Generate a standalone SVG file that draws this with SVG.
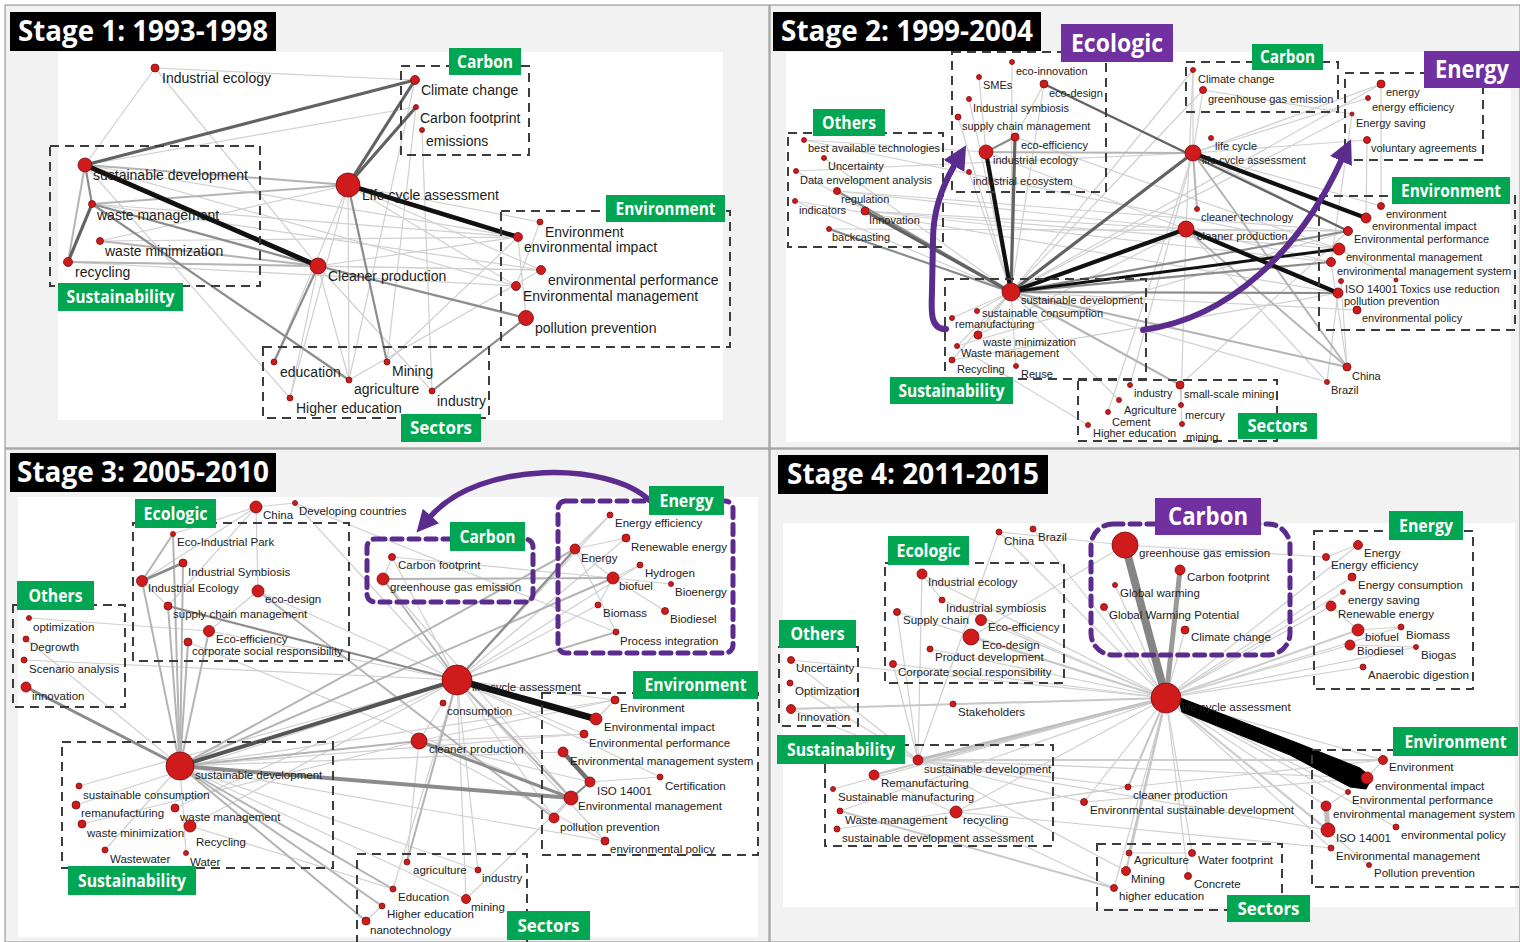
<svg xmlns="http://www.w3.org/2000/svg" width="1520" height="942" viewBox="0 0 1520 942">
<style>
text{font-family:"Liberation Sans",Arial,sans-serif}
.n circle{fill:#cf1b1b;stroke:#7d0b0b;stroke-width:.8}
.n text{fill:#1c1c1c}
.f1 text{font-size:14px}
.f2 text{font-size:11px}
.f3 text{font-size:11.5px}
.c0 path{stroke:#d0d0d0;stroke-width:1.2;fill:none}
.c1 path{stroke:#b4b4b4;stroke-width:2;fill:none}
.c2 path{stroke:#8c8c8c;stroke-width:2.2;fill:none}
.c3 path{stroke:#626262;stroke-width:3.2;fill:none}
.c4 path{stroke:#111;stroke-width:4.2;fill:none}
.bx{fill:none;stroke:#3c3c3c;stroke-width:2;stroke-dasharray:9 6}
.pb{fill:none;stroke:#5b2b8e;stroke-width:5;stroke-dasharray:10 7;stroke-linecap:round}
.gl rect{fill:#00a651}
.pl rect{fill:#7030a0}
.tt rect{fill:#000}
.gl text,.pl text,.tt text{font-family:"Open Sans","Liberation Sans",sans-serif;font-weight:700;fill:#fff;text-anchor:middle}
.gl text{font-size:17px}
.pl text{font-size:25px}
.tt text{font-size:28px}
.arr{fill:none;stroke:#5b2b8e;stroke-width:6;stroke-linecap:round}
</style>
<defs>
<marker id="ah" viewBox="0 0 10 10" refX="0" refY="5" markerWidth="4" markerHeight="4" orient="auto"><path d="M0,0L10,5L0,10z" fill="#5b2b8e"/></marker>
</defs>
<rect width="1520" height="942" fill="#fff"/>
<g id="panels">
<rect x="5" y="5" width="764" height="443" fill="#f2f2f2" stroke="#8a8a8a"/>
<rect x="770" y="5" width="750" height="443" fill="#f2f2f2" stroke="#8a8a8a"/>
<rect x="5" y="449" width="764" height="493" fill="#f2f2f2" stroke="#8a8a8a"/>
<rect x="770" y="449" width="750" height="493" fill="#f2f2f2" stroke="#8a8a8a"/>
<rect x="58" y="52" width="665" height="368" fill="#fff"/>
<rect x="786" y="52" width="725" height="390" fill="#fff"/>
<rect x="18" y="497" width="740" height="440" fill="#fff"/>
<rect x="783" y="523" width="732" height="384" fill="#fff"/>
</g>
<g id="connectors">
<!-- Stage 1 -->
<g class="c0">
<path d="M155 68L85 165"/><path d="M155 68L415 80"/><path d="M155 68L318 266"/><path d="M85 165L416 107"/>
<path d="M348 185L540 222"/><path d="M348 185L541 270"/><path d="M348 185L516 286"/><path d="M348 185L274 362"/>
<path d="M348 185L349 380"/><path d="M348 185L290 398"/><path d="M318 266L518 237"/><path d="M318 266L541 270"/>
<path d="M318 266L349 380"/><path d="M318 266L432 391"/><path d="M318 266L290 398"/><path d="M422 130L432 391"/>
<path d="M415 80L349 380"/><path d="M416 107L387 362"/><path d="M92 204L518 237"/><path d="M92 204L541 270"/>
<path d="M100 241L518 237"/><path d="M68 262L516 286"/><path d="M68 262L541 270"/><path d="M85 165L518 237"/>
<path d="M85 165L516 286"/><path d="M85 165L290 398"/><path d="M387 362L518 237"/><path d="M349 380L541 270"/>
<path d="M100 241L348 185"/><path d="M518 237L526 318"/><path d="M540 222L516 286"/>
</g>
<g class="c1">
<path d="M85 165L348 185"/><path d="M92 204L348 185"/><path d="M68 262L85 165"/><path d="M100 241L318 266"/><path d="M68 262L318 266"/>
</g>
<g class="c2">
<path d="M348 185L387 362"/><path d="M85 165L92 204"/><path d="M92 204L349 380"/><path d="M318 266L274 362"/>
<path d="M318 266L526 318"/><path d="M432 391L526 318"/><path d="M92 204L318 266"/>
</g>
<g class="c3">
<path d="M85 165L415 80"/><path d="M348 185L415 80"/><path d="M348 185L416 107"/><path d="M68 262L92 204"/>
</g>
<g class="c4">
<path d="M85 165L318 266" style="stroke-width:5"/><path d="M348 185L518 237" style="stroke-width:4.5"/>
</g>
<!-- Stage 2 -->
<g class="c0">
<path d="M804 140L986 152"/><path d="M804 140L1339 249"/><path d="M824 158L1011 292"/><path d="M796 171L1011 292"/>
<path d="M796 171L1193 153"/><path d="M795 201L1011 292"/><path d="M795 201L1338 293"/><path d="M837 191L1348 231"/>
<path d="M865 211L1339 249"/><path d="M865 211L1331 262"/><path d="M1011 292L1193 70"/><path d="M1011 292L1203 90"/>
<path d="M1011 292L1381 84"/><path d="M1011 292L1352 114"/><path d="M1193 153L1193 70"/><path d="M1203 90L1193 153"/>
<path d="M1193 153L1368 98"/><path d="M1193 153L1367 140"/><path d="M1193 153L1381 206"/><path d="M1193 153L1348 231"/>
<path d="M1186 229L1348 231"/><path d="M1186 229L1331 262"/><path d="M1186 229L1327 382"/><path d="M986 152L1186 229"/>
<path d="M1015 137L1339 249"/><path d="M958 117L1011 292"/><path d="M969 99L1011 292"/><path d="M969 172L1011 292"/>
<path d="M1012 62L1011 292"/><path d="M979 77L986 152"/><path d="M1044 84L1011 292"/><path d="M1044 84L1015 137"/>
<path d="M1193 70L1186 229"/><path d="M1381 84L1381 206"/><path d="M1367 140L1366 218"/><path d="M1352 114L1331 262"/>
<path d="M977 311L1011 292"/><path d="M952 318L1011 292"/><path d="M978 335L1011 292"/><path d="M957 346L1011 292"/>
<path d="M952 360L1011 292"/><path d="M1016 366L1011 292"/><path d="M1088 425L957 346"/><path d="M1119 400L1011 292"/>
<path d="M1108 412L1193 153"/><path d="M1130 385L1193 153"/><path d="M1180 385L1181 405"/><path d="M1180 385L1182 424"/>
<path d="M1180 385L1348 231"/><path d="M1181 405L1186 229"/><path d="M1011 292L1327 382"/><path d="M957 346L1348 231"/>
<path d="M952 360L1338 293"/><path d="M1396 280L1339 249"/><path d="M1331 262L1347 367"/><path d="M1327 382L1338 293"/>
<path d="M1341 281L1347 367"/><path d="M1357 310L1011 292"/><path d="M1193 153L1381 84"/><path d="M978 335L1186 229"/>
<path d="M865 211L1186 229"/><path d="M829 229L1348 231"/><path d="M837 191L1186 229"/><path d="M1203 90L1352 114"/>
</g>
<g class="c1">
<path d="M986 152L1193 153"/><path d="M1193 153L1197 209"/><path d="M1011 292L1180 385"/><path d="M1011 292L1347 367"/>
<path d="M1186 229L1347 367"/><path d="M1193 153L1347 367"/>
</g>
<g class="c2">
<path d="M829 229L1011 292"/><path d="M986 152L1015 137"/><path d="M1011 292L1348 231"/><path d="M1011 292L1331 262"/>
<path d="M837 191L1011 292"/><path d="M1011 292L1338 293"/>
</g>
<g class="c3">
<path d="M1011 292L1015 137"/><path d="M1011 292L1193 153"/><path d="M865 211L1011 292"/><path d="M1044 84L1348 231" style="stroke-width:2.4"/>
</g>
<g class="c4">
<path d="M1011 292L986 152"/><path d="M1011 292L1186 229"/><path d="M1186 229L1338 293"/><path d="M1193 153L1366 218"/>
<path d="M1011 292L1339 249" style="stroke-width:3"/>
</g>
<!-- Stage 3 -->
<g class="c0">
<path d="M256 507L142 581"/><path d="M256 507L168 606"/><path d="M256 507L258 591"/><path d="M295 503L457 680"/>
<path d="M295 503L616 632"/><path d="M173 534L256 507"/><path d="M142 581L168 606"/><path d="M258 591L209 631"/>
<path d="M258 591L457 680"/><path d="M209 631L457 680"/><path d="M188 642L571 798"/><path d="M26 639L180 766"/>
<path d="M24 660L457 680"/><path d="M29 618L209 631"/><path d="M392 557L457 680"/><path d="M392 557L613 578"/>
<path d="M383 579L571 798"/><path d="M457 680L610 515"/><path d="M457 680L626 538"/><path d="M457 680L598 605"/>
<path d="M457 680L640 565"/><path d="M457 680L615 700"/><path d="M457 680L584 734"/><path d="M457 680L554 818"/>
<path d="M457 680L660 777"/><path d="M457 680L605 841"/><path d="M457 680L466 899"/><path d="M457 680L393 889"/>
<path d="M443 703L419 741"/><path d="M419 741L615 700"/><path d="M419 741L584 734"/><path d="M419 741L590 782"/>
<path d="M419 741L407 862"/><path d="M419 741L605 841"/><path d="M180 766L615 700"/><path d="M180 766L584 734"/>
<path d="M180 766L563 752"/><path d="M180 766L605 841"/><path d="M180 766L478 870"/><path d="M180 766L466 899"/>
<path d="M190 826L393 889"/><path d="M79 786L457 680"/><path d="M76 805L457 680"/><path d="M82 824L419 741"/>
<path d="M105 850L180 766"/><path d="M186 853L180 766"/><path d="M575 549L613 578"/><path d="M613 578L598 605"/>
<path d="M613 578L665 611"/><path d="M613 578L640 565"/><path d="M613 578L671 584"/><path d="M626 538L575 549"/>
<path d="M610 515L575 549"/><path d="M616 632L575 549"/><path d="M478 870L457 680"/><path d="M466 899L571 798"/>
<path d="M366 921L382 906"/><path d="M596 719L615 700"/><path d="M590 782L660 777"/><path d="M554 818L571 798"/>
<path d="M175 808L457 680"/><path d="M190 826L457 680"/><path d="M392 557L383 579"/><path d="M295 503L256 507"/>
</g>
<g class="c1">
<path d="M180 766L142 581"/><path d="M180 766L168 606"/><path d="M180 766L209 631"/><path d="M180 766L188 642"/>
<path d="M180 766L183 563"/><path d="M180 766L173 534"/><path d="M142 581L173 534"/><path d="M180 766L419 741"/>
<path d="M457 680L407 862"/><path d="M180 766L382 906"/><path d="M180 766L366 921"/><path d="M180 766L393 889"/>
<path d="M457 680L383 579"/><path d="M383 579L613 578"/><path d="M180 766L616 632"/><path d="M180 766L575 549"/>
<path d="M180 766L613 578"/><path d="M457 680L571 798"/><path d="M258 591L554 818"/>
</g>
<g class="c2">
<path d="M180 766L26 687" style="stroke-width:3"/><path d="M142 581L183 563" style="stroke-width:3"/><path d="M419 741L571 798" style="stroke-width:3"/>
<path d="M168 606L457 680"/><path d="M457 680L575 549"/><path d="M590 782L571 798"/>
<path d="M180 766L571 798" style="stroke-width:4"/><path d="M563 752L590 782" style="stroke:#707070;stroke-width:4.5"/>
</g>
<g class="c3">
<path d="M180 766L457 680" style="stroke:#555;stroke-width:4"/>
</g>
<g class="c4">
<path d="M457 680L596 719" style="stroke-width:6.5"/>
</g>
<!-- Stage 4 -->
<g class="c0">
<path d="M791 660L1166 698"/><path d="M1166 698L1192 853"/><path d="M1166 698L1358 545"/><path d="M1166 698L1331 606"/>
<path d="M1166 698L1350 645"/><path d="M1166 698L1331 848"/><path d="M1166 698L1383 760"/><path d="M1166 698L1326 806"/>
<path d="M1166 698L1114 888"/><path d="M1166 698L1188 876"/><path d="M918 760L1367 778"/><path d="M956 812L1128 787"/>
<path d="M1084 802L918 760"/><path d="M1128 787L918 760"/><path d="M999 532L1166 698"/><path d="M1033 529L1166 698"/>
<path d="M922 574L1166 698"/><path d="M942 600L1166 698"/><path d="M897 612L1166 698"/><path d="M981 620L1166 698"/>
<path d="M930 649L1166 698"/><path d="M893 664L1166 698"/><path d="M953 704L1166 698"/><path d="M999 532L918 760"/>
<path d="M922 574L918 760"/><path d="M897 612L918 760"/><path d="M893 664L918 760"/><path d="M1125 545L1326 557"/>
<path d="M1104 607L1166 698"/><path d="M1185 630L1166 698"/><path d="M1115 585L1166 698"/><path d="M1352 577L1166 698"/>
<path d="M1343 592L1166 698"/><path d="M1363 667L1166 698"/><path d="M1401 627L1166 698"/><path d="M1416 647L1166 698"/>
<path d="M1348 792L1166 698"/><path d="M1369 865L1166 698"/><path d="M1396 827L1166 698"/><path d="M1383 760L1367 778"/>
<path d="M1326 806L1348 792"/><path d="M918 760L1328 830"/><path d="M956 812L1331 848"/><path d="M1129 853L1192 853"/>
<path d="M971 637L1125 545"/><path d="M922 574L942 600"/><path d="M791 660L918 760"/><path d="M790 683L918 760"/>
<path d="M791 709L918 760"/><path d="M833 789L1166 698"/><path d="M837 829L1128 787"/><path d="M840 811L1166 698"/>
<path d="M956 812L1166 698"/><path d="M999 532L1125 545"/><path d="M1084 802L1166 698"/><path d="M1126 871L918 760"/>
<path d="M1114 888L874 775"/><path d="M1128 787L1383 760"/><path d="M1084 802L1367 778"/><path d="M1358 545L1326 557"/>
<path d="M1358 630L1401 627"/><path d="M1350 645L1416 647"/><path d="M1331 606L1358 630"/>
</g>
<g class="c1">
<path d="M918 760L1166 698" style="stroke:#bdbdbd;stroke-width:3"/><path d="M874 775L1166 698" style="stroke:#c8c8c8"/>
<path d="M791 709L1166 698" style="stroke:#c8c8c8"/><path d="M971 637L1166 698" style="stroke:#c8c8c8"/>
<path d="M1166 698L1129 853" style="stroke:#c4c4c4"/><path d="M1166 698L1126 871" style="stroke:#c8c8c8"/>
<path d="M1166 698L1128 787" style="stroke:#c4c4c4"/><path d="M918 760L1383 760" style="stroke:#cdcdcd"/>
<path d="M840 811L1114 888" style="stroke:#c8c8c8"/><path d="M1166 698L1358 630" style="stroke:#cdcdcd"/>
<path d="M1166 698L1328 830" style="stroke:#cdcdcd"/>
<path d="M1326 806L1328 830" style="stroke:#bdbdbd;stroke-width:5"/>
</g>
<g class="c2">
<path d="M1125 545L1166 698" style="stroke:#858585;stroke-width:8"/>
<path d="M1180 570L1166 698" style="stroke:#9a9a9a;stroke-width:5"/>
</g>
<g class="c4">
<path d="M1178 697L1300 744L1360 768L1372 778L1366 789L1350 787L1290 755L1182 712Z" style="fill:#000;stroke:#000;stroke-width:1"/>
</g>
</g>
<g id="group-frames">
<rect class="bx" x="50" y="146" width="210" height="140"/>
<rect class="bx" x="401" y="66" width="128" height="89"/>
<rect class="bx" x="501" y="211" width="229" height="136"/>
<rect class="bx" x="263" y="347" width="226" height="71"/>
<rect class="bx" x="952" y="52" width="154" height="140"/>
<rect class="bx" x="788" y="133" width="155" height="114"/>
<rect class="bx" x="1186" y="62" width="152" height="50"/>
<rect class="bx" x="1345" y="73" width="138" height="87"/>
<rect class="bx" x="1319" y="196" width="196" height="134"/>
<rect class="bx" x="945" y="279" width="201" height="100"/>
<rect class="bx" x="1078" y="380" width="199" height="61"/>
<rect class="bx" x="133" y="523" width="216" height="138"/>
<rect class="bx" x="13" y="605" width="112" height="102"/>
<rect class="bx" x="62" y="742" width="271" height="126"/>
<rect class="bx" x="542" y="693" width="216" height="162"/>
<rect class="bx" x="357" y="854" width="170" height="100"/>
<rect class="pb" x="367" y="539" width="166" height="63" rx="8"/>
<rect class="pb" x="558" y="501" width="175" height="152" rx="8"/>
<rect class="bx" x="885" y="563" width="179" height="120"/>
<rect class="bx" x="779" y="647" width="79" height="79"/>
<rect class="bx" x="825" y="745" width="228" height="101"/>
<rect class="bx" x="1097" y="844" width="185" height="66"/>
<rect class="bx" x="1314" y="531" width="159" height="158"/>
<rect class="bx" x="1312" y="750" width="215" height="137"/>
<rect class="pb" x="1091" y="524" width="199" height="131" rx="22"/>
</g>
<g id="stage1-nodes" class="f1">
<g id="s1-industrial-ecology" class="n"><circle cx="155" cy="68" r="4"/><text x="162" y="83">Industrial ecology</text></g>
<g id="s1-sustainable-development" class="n"><circle cx="85" cy="165" r="7"/><text x="93" y="180">sustainable development</text></g>
<g id="s1-waste-management" class="n"><circle cx="92" cy="204" r="3.5"/><text x="97" y="220">waste management</text></g>
<g id="s1-waste-minimization" class="n"><circle cx="100" cy="241" r="3.5"/><text x="105" y="256">waste minimization</text></g>
<g id="s1-recycling" class="n"><circle cx="68" cy="262" r="4.5"/><text x="75" y="277">recycling</text></g>
<g id="s1-lca" class="n"><circle cx="348" cy="185" r="12"/><text x="362" y="200">Life cycle assessment</text></g>
<g id="s1-cleaner-production" class="n"><circle cx="318" cy="266" r="8"/><text x="328" y="281">Cleaner production</text></g>
<g id="s1-climate-change" class="n"><circle cx="415" cy="80" r="4.5"/><text x="421" y="95">Climate change</text></g>
<g id="s1-carbon-footprint" class="n"><circle cx="416" cy="107" r="2.5"/><text x="420" y="123">Carbon footprint</text></g>
<g id="s1-emissions" class="n"><circle cx="422" cy="130" r="2.5"/><text x="426" y="146">emissions</text></g>
<g id="s1-environment" class="n"><circle cx="540" cy="222" r="3"/><text x="545" y="237">Environment</text></g>
<g id="s1-environmental-impact" class="n"><circle cx="518" cy="237" r="4.5"/><text x="524" y="252">environmental impact</text></g>
<g id="s1-environmental-performance" class="n"><circle cx="541" cy="270" r="4.5"/><text x="548" y="285">environmental performance</text></g>
<g id="s1-environmental-management" class="n"><circle cx="516" cy="286" r="4.5"/><text x="523" y="301">Environmental management</text></g>
<g id="s1-pollution-prevention" class="n"><circle cx="526" cy="318" r="7.5"/><text x="535" y="333">pollution prevention</text></g>
<g id="s1-education" class="n"><circle cx="274" cy="362" r="3"/><text x="280" y="377">education</text></g>
<g id="s1-mining" class="n"><circle cx="387" cy="362" r="3"/><text x="392" y="376">Mining</text></g>
<g id="s1-agriculture" class="n"><circle cx="349" cy="380" r="3"/><text x="354" y="394">agriculture</text></g>
<g id="s1-industry" class="n"><circle cx="432" cy="391" r="3"/><text x="437" y="406">industry</text></g>
<g id="s1-higher-education" class="n"><circle cx="290" cy="398" r="3"/><text x="296" y="413">Higher education</text></g>
</g>
<g id="stage2-nodes" class="f2">
<g id="s2-eco-innovation" class="n"><circle cx="1012" cy="62" r="2.5"/><text x="1016" y="75">eco-innovation</text></g>
<g id="s2-smes" class="n"><circle cx="979" cy="77" r="2.5"/><text x="983" y="89">SMEs</text></g>
<g id="s2-eco-design" class="n"><circle cx="1044" cy="84" r="4"/><text x="1049" y="97">eco-design</text></g>
<g id="s2-industrial-symbiosis" class="n"><circle cx="969" cy="99" r="2.5"/><text x="973" y="112">Industrial symbiosis</text></g>
<g id="s2-supply-chain-management" class="n"><circle cx="958" cy="117" r="3"/><text x="962" y="130">supply chain management</text></g>
<g id="s2-eco-efficiency" class="n"><circle cx="1015" cy="137" r="4"/><text x="1021" y="149">eco-efficiency</text></g>
<g id="s2-industrial-ecology" class="n"><circle cx="986" cy="152" r="7"/><text x="993" y="164">industrial ecology</text></g>
<g id="s2-industrial-ecosystem" class="n"><circle cx="969" cy="172" r="2.5"/><text x="973" y="185">industrial ecosystem</text></g>
<g id="s2-bat" class="n"><circle cx="804" cy="140" r="2.5"/><text x="808" y="152">best available technologies</text></g>
<g id="s2-uncertainty" class="n"><circle cx="824" cy="158" r="2.5"/><text x="828" y="170">Uncertainty</text></g>
<g id="s2-dea" class="n"><circle cx="796" cy="171" r="2.5"/><text x="800" y="184">Data envelopment analysis</text></g>
<g id="s2-regulation" class="n"><circle cx="837" cy="191" r="3.5"/><text x="841" y="203">regulation</text></g>
<g id="s2-indicators" class="n"><circle cx="795" cy="201" r="2.5"/><text x="799" y="214">indicators</text></g>
<g id="s2-innovation" class="n"><circle cx="865" cy="211" r="4"/><text x="869" y="224">Innovation</text></g>
<g id="s2-backcasting" class="n"><circle cx="829" cy="229" r="2.5"/><text x="832" y="241">backcasting</text></g>
<g id="s2-climate-change" class="n"><circle cx="1193" cy="70" r="2.5"/><text x="1198" y="83">Climate change</text></g>
<g id="s2-ghg" class="n"><circle cx="1203" cy="90" r="3.5"/><text x="1208" y="103">greenhouse gas emission</text></g>
<g id="s2-energy" class="n"><circle cx="1381" cy="84" r="4"/><text x="1386" y="96">energy</text></g>
<g id="s2-energy-efficiency" class="n"><circle cx="1368" cy="98" r="2.5"/><text x="1372" y="111">energy efficiency</text></g>
<g id="s2-energy-saving" class="n"><circle cx="1352" cy="114" r="2"/><text x="1356" y="127">Energy saving</text></g>
<g id="s2-voluntary-agreements" class="n"><circle cx="1367" cy="140" r="3.5"/><text x="1371" y="152">voluntary agreements</text></g>
<g id="s2-environment" class="n"><circle cx="1381" cy="206" r="3.5"/><text x="1386" y="218">environment</text></g>
<g id="s2-environmental-impact" class="n"><circle cx="1366" cy="218" r="5"/><text x="1372" y="230">environmental impact</text></g>
<g id="s2-environmental-performance" class="n"><circle cx="1348" cy="231" r="4.5"/><text x="1354" y="243">Environmental performance</text></g>
<g id="s2-environmental-management" class="n"><circle cx="1339" cy="249" r="6"/><text x="1346" y="261">environmental management</text></g>
<g id="s2-ems" class="n"><circle cx="1331" cy="262" r="4.5"/><text x="1337" y="275">environmental management system</text></g>
<g id="s2-iso14001" class="n"><circle cx="1341" cy="281" r="2.5"/><text x="1345" y="293">ISO 14001</text></g>
<g id="s2-toxics" class="n"><circle cx="1396" cy="280" r="2"/><text x="1400" y="293">Toxics use reduction</text></g>
<g id="s2-pollution-prevention" class="n"><circle cx="1338" cy="293" r="5"/><text x="1344" y="305">pollution prevention</text></g>
<g id="s2-environmental-policy" class="n"><circle cx="1357" cy="310" r="4"/><text x="1362" y="322">environmental policy</text></g>
<g id="s2-china" class="n"><circle cx="1347" cy="367" r="4"/><text x="1352" y="380">China</text></g>
<g id="s2-brazil" class="n"><circle cx="1327" cy="382" r="2.5"/><text x="1331" y="394">Brazil</text></g>
<g id="s2-life-cycle" class="n"><circle cx="1211" cy="138" r="2.5"/><text x="1215" y="150">life cycle</text></g>
<g id="s2-lca" class="n"><circle cx="1193" cy="153" r="8"/><text x="1202" y="164">life cycle assessment</text></g>
<g id="s2-cleaner-technology" class="n"><circle cx="1197" cy="209" r="2.5"/><text x="1201" y="221">cleaner technology</text></g>
<g id="s2-cleaner-production" class="n"><circle cx="1186" cy="229" r="8"/><text x="1197" y="240">cleaner production</text></g>
<g id="s2-sustainable-development" class="n"><circle cx="1011" cy="292" r="9"/><text x="1021" y="304">sustainable development</text></g>
<g id="s2-sustainable-consumption" class="n"><circle cx="977" cy="311" r="2.5"/><text x="982" y="317">sustainable consumption</text></g>
<g id="s2-remanufacturing" class="n"><circle cx="952" cy="318" r="2.5"/><text x="955" y="328">remanufacturing</text></g>
<g id="s2-waste-minimization" class="n"><circle cx="978" cy="335" r="4"/><text x="983" y="346">waste minimization</text></g>
<g id="s2-waste-management" class="n"><circle cx="957" cy="346" r="2.5"/><text x="961" y="357">Waste management</text></g>
<g id="s2-recycling" class="n"><circle cx="952" cy="360" r="3"/><text x="957" y="373">Recycling</text></g>
<g id="s2-reuse" class="n"><circle cx="1016" cy="366" r="2.5"/><text x="1021" y="378">Reuse</text></g>
<g id="s2-industry" class="n"><circle cx="1130" cy="385" r="2.5"/><text x="1134" y="397">industry</text></g>
<g id="s2-small-scale-mining" class="n"><circle cx="1180" cy="385" r="4"/><text x="1184" y="398">small-scale mining</text></g>
<g id="s2-agriculture" class="n"><circle cx="1119" cy="400" r="2.5"/><text x="1124" y="414">Agriculture</text></g>
<g id="s2-mercury" class="n"><circle cx="1181" cy="405" r="2.5"/><text x="1185" y="419">mercury</text></g>
<g id="s2-cement" class="n"><circle cx="1108" cy="412" r="2.5"/><text x="1112" y="426">Cement</text></g>
<g id="s2-higher-education" class="n"><circle cx="1088" cy="425" r="2.5"/><text x="1093" y="437">Higher education</text></g>
<g id="s2-mining" class="n"><circle cx="1182" cy="424" r="2.5"/><text x="1186" y="441">mining</text></g>
</g>
<g id="stage3-nodes" class="f3">
<g id="s3-china" class="n"><circle cx="256" cy="507" r="6"/><text x="263" y="519">China</text></g>
<g id="s3-developing-countries" class="n"><circle cx="295" cy="503" r="2.5"/><text x="299" y="515">Developing countries</text></g>
<g id="s3-eco-industrial-park" class="n"><circle cx="173" cy="534" r="2.5"/><text x="177" y="546">Eco-Industrial Park</text></g>
<g id="s3-industrial-symbiosis" class="n"><circle cx="183" cy="563" r="4"/><text x="188" y="576">Industrial Symbiosis</text></g>
<g id="s3-industrial-ecology" class="n"><circle cx="142" cy="581" r="5.5"/><text x="148" y="592">Industrial Ecology</text></g>
<g id="s3-eco-design" class="n"><circle cx="258" cy="591" r="6"/><text x="265" y="603">eco-design</text></g>
<g id="s3-scm" class="n"><circle cx="168" cy="606" r="4"/><text x="173" y="618">supply chain management</text></g>
<g id="s3-eco-efficiency" class="n"><circle cx="209" cy="631" r="5.5"/><text x="216" y="643">Eco-efficiency</text></g>
<g id="s3-csr" class="n"><circle cx="188" cy="642" r="4"/><text x="192" y="655">corporate social responsibility</text></g>
<g id="s3-optimization" class="n"><circle cx="29" cy="618" r="2.5"/><text x="33" y="631">optimization</text></g>
<g id="s3-degrowth" class="n"><circle cx="26" cy="639" r="3"/><text x="30" y="651">Degrowth</text></g>
<g id="s3-scenario-analysis" class="n"><circle cx="24" cy="660" r="3"/><text x="29" y="673">Scenario analysis</text></g>
<g id="s3-innovation" class="n"><circle cx="26" cy="687" r="5"/><text x="32" y="700">innovation</text></g>
<g id="s3-sustainable-development" class="n"><circle cx="180" cy="766" r="14"/><text x="195" y="779">sustainable development</text></g>
<g id="s3-sustainable-consumption" class="n"><circle cx="79" cy="786" r="3"/><text x="83" y="799">sustainable consumption</text></g>
<g id="s3-remanufacturing" class="n"><circle cx="76" cy="805" r="4"/><text x="81" y="817">remanufacturing</text></g>
<g id="s3-waste-management" class="n"><circle cx="175" cy="808" r="4"/><text x="180" y="821">waste management</text></g>
<g id="s3-waste-minimization" class="n"><circle cx="82" cy="824" r="4"/><text x="87" y="837">waste minimization</text></g>
<g id="s3-recycling" class="n"><circle cx="190" cy="826" r="6"/><text x="196" y="846">Recycling</text></g>
<g id="s3-wastewater" class="n"><circle cx="105" cy="850" r="3"/><text x="110" y="863">Wastewater</text></g>
<g id="s3-water" class="n"><circle cx="186" cy="853" r="2.5"/><text x="190" y="866">Water</text></g>
<g id="s3-carbon-footprint" class="n"><circle cx="392" cy="557" r="3.5"/><text x="398" y="569">Carbon footprint</text></g>
<g id="s3-ghg" class="n"><circle cx="383" cy="579" r="6"/><text x="390" y="591">greenhouse gas emission</text></g>
<g id="s3-lca" class="n"><circle cx="457" cy="680" r="15"/><text x="472" y="691">life cycle assessment</text></g>
<g id="s3-consumption" class="n"><circle cx="443" cy="703" r="3"/><text x="447" y="715">consumption</text></g>
<g id="s3-cleaner-production" class="n"><circle cx="419" cy="741" r="8"/><text x="429" y="753">cleaner production</text></g>
<g id="s3-agriculture" class="n"><circle cx="407" cy="862" r="3"/><text x="413" y="874">agriculture</text></g>
<g id="s3-industry" class="n"><circle cx="478" cy="870" r="3"/><text x="482" y="882">industry</text></g>
<g id="s3-education" class="n"><circle cx="393" cy="889" r="3"/><text x="398" y="901">Education</text></g>
<g id="s3-mining" class="n"><circle cx="466" cy="899" r="4.5"/><text x="471" y="911">mining</text></g>
<g id="s3-higher-education" class="n"><circle cx="382" cy="906" r="3"/><text x="387" y="918">Higher education</text></g>
<g id="s3-nanotechnology" class="n"><circle cx="366" cy="921" r="4"/><text x="370" y="934">nanotechnology</text></g>
<g id="s3-energy-efficiency" class="n"><circle cx="610" cy="515" r="3"/><text x="615" y="527">Energy efficiency</text></g>
<g id="s3-renewable-energy" class="n"><circle cx="626" cy="538" r="4"/><text x="631" y="551">Renewable energy</text></g>
<g id="s3-energy" class="n"><circle cx="575" cy="549" r="5"/><text x="581" y="562">Energy</text></g>
<g id="s3-hydrogen" class="n"><circle cx="640" cy="565" r="3"/><text x="645" y="577">Hydrogen</text></g>
<g id="s3-biofuel" class="n"><circle cx="613" cy="578" r="6"/><text x="619" y="590">biofuel</text></g>
<g id="s3-bioenergy" class="n"><circle cx="671" cy="584" r="2.5"/><text x="675" y="596">Bioenergy</text></g>
<g id="s3-biomass" class="n"><circle cx="598" cy="605" r="3"/><text x="603" y="617">Biomass</text></g>
<g id="s3-biodiesel" class="n"><circle cx="665" cy="611" r="3.5"/><text x="670" y="623">Biodiesel</text></g>
<g id="s3-process-integration" class="n"><circle cx="616" cy="632" r="3"/><text x="620" y="645">Process integration</text></g>
<g id="s3-environment" class="n"><circle cx="615" cy="700" r="4"/><text x="620" y="712">Environment</text></g>
<g id="s3-environmental-impact" class="n"><circle cx="596" cy="719" r="6"/><text x="604" y="731">Environmental impact</text></g>
<g id="s3-environmental-performance" class="n"><circle cx="584" cy="734" r="4"/><text x="589" y="747">Environmental performance</text></g>
<g id="s3-ems" class="n"><circle cx="563" cy="752" r="5"/><text x="570" y="765">Environmental management system</text></g>
<g id="s3-certification" class="n"><circle cx="660" cy="777" r="3"/><text x="665" y="790">Certification</text></g>
<g id="s3-iso14001" class="n"><circle cx="590" cy="782" r="5"/><text x="597" y="795">ISO 14001</text></g>
<g id="s3-environmental-management" class="n"><circle cx="571" cy="798" r="7"/><text x="578" y="810">Environmental management</text></g>
<g id="s3-pollution-prevention" class="n"><circle cx="554" cy="818" r="5"/><text x="560" y="831">pollution prevention</text></g>
<g id="s3-environmental-policy" class="n"><circle cx="605" cy="841" r="4"/><text x="610" y="853">environmental policy</text></g>
</g>
<g id="stage4-nodes" class="f3">
<g id="s4-china" class="n"><circle cx="999" cy="532" r="3"/><text x="1004" y="545">China</text></g>
<g id="s4-brazil" class="n"><circle cx="1033" cy="529" r="3"/><text x="1038" y="541">Brazil</text></g>
<g id="s4-industrial-ecology" class="n"><circle cx="922" cy="574" r="5"/><text x="928" y="586">Industrial ecology</text></g>
<g id="s4-industrial-symbiosis" class="n"><circle cx="942" cy="600" r="3"/><text x="946" y="612">Industrial symbiosis</text></g>
<g id="s4-supply-chain" class="n"><circle cx="897" cy="612" r="3.5"/><text x="903" y="624">Supply chain</text></g>
<g id="s4-eco-efficiency" class="n"><circle cx="981" cy="620" r="5.5"/><text x="988" y="631">Eco-efficiency</text></g>
<g id="s4-eco-design" class="n"><circle cx="971" cy="637" r="8"/><text x="982" y="649">Eco-design</text></g>
<g id="s4-product-development" class="n"><circle cx="930" cy="649" r="3"/><text x="935" y="661">Product development</text></g>
<g id="s4-csr" class="n"><circle cx="893" cy="664" r="3.5"/><text x="898" y="676">Corporate social responsibility</text></g>
<g id="s4-uncertainty" class="n"><circle cx="791" cy="660" r="3.5"/><text x="796" y="672">Uncertainty</text></g>
<g id="s4-optimization" class="n"><circle cx="790" cy="683" r="3"/><text x="795" y="695">Optimization</text></g>
<g id="s4-innovation" class="n"><circle cx="791" cy="709" r="4.5"/><text x="797" y="721">Innovation</text></g>
<g id="s4-stakeholders" class="n"><circle cx="953" cy="704" r="3"/><text x="958" y="716">Stakeholders</text></g>
<g id="s4-sustainable-development" class="n"><circle cx="918" cy="760" r="5"/><text x="924" y="773">sustainable development</text></g>
<g id="s4-remanufacturing" class="n"><circle cx="874" cy="775" r="5"/><text x="881" y="787">Remanufacturing</text></g>
<g id="s4-sustainable-manufacturing" class="n"><circle cx="833" cy="789" r="2.5"/><text x="838" y="801">Sustainable manufacturing</text></g>
<g id="s4-waste-management" class="n"><circle cx="840" cy="811" r="3"/><text x="845" y="824">Waste management</text></g>
<g id="s4-recycling" class="n"><circle cx="956" cy="812" r="6"/><text x="963" y="824">recycling</text></g>
<g id="s4-sda" class="n"><circle cx="837" cy="829" r="3"/><text x="842" y="842">sustainable development assessment</text></g>
<g id="s4-ghg" class="n"><circle cx="1125" cy="545" r="13"/><text x="1139" y="557">greenhouse gas emission</text></g>
<g id="s4-carbon-footprint" class="n"><circle cx="1180" cy="570" r="5"/><text x="1187" y="581">Carbon footprint</text></g>
<g id="s4-global-warming" class="n"><circle cx="1115" cy="585" r="2.5"/><text x="1120" y="597">Global warming</text></g>
<g id="s4-gwp" class="n"><circle cx="1104" cy="607" r="3.5"/><text x="1109" y="619">Global Warming Potential</text></g>
<g id="s4-climate-change" class="n"><circle cx="1185" cy="630" r="4"/><text x="1191" y="641">Climate change</text></g>
<g id="s4-lca" class="n"><circle cx="1166" cy="698" r="15"/><text x="1182" y="711">life cycle assessment</text></g>
<g id="s4-cleaner-production" class="n"><circle cx="1128" cy="787" r="3"/><text x="1133" y="799">cleaner production</text></g>
<g id="s4-esd" class="n"><circle cx="1084" cy="802" r="3.5"/><text x="1090" y="814">Environmental sustainable development</text></g>
<g id="s4-agriculture" class="n"><circle cx="1129" cy="853" r="3"/><text x="1134" y="864">Agriculture</text></g>
<g id="s4-water-footprint" class="n"><circle cx="1192" cy="853" r="3.5"/><text x="1198" y="864">Water footprint</text></g>
<g id="s4-mining" class="n"><circle cx="1126" cy="871" r="4.5"/><text x="1131" y="883">Mining</text></g>
<g id="s4-concrete" class="n"><circle cx="1188" cy="876" r="3.5"/><text x="1194" y="888">Concrete</text></g>
<g id="s4-higher-education" class="n"><circle cx="1114" cy="888" r="3.5"/><text x="1119" y="900">higher education</text></g>
<g id="s4-energy" class="n"><circle cx="1358" cy="545" r="4.5"/><text x="1364" y="557">Energy</text></g>
<g id="s4-energy-efficiency" class="n"><circle cx="1326" cy="557" r="3.5"/><text x="1331" y="569">Energy efficiency</text></g>
<g id="s4-energy-consumption" class="n"><circle cx="1352" cy="577" r="4"/><text x="1358" y="589">Energy consumption</text></g>
<g id="s4-energy-saving" class="n"><circle cx="1343" cy="592" r="2.5"/><text x="1348" y="604">energy saving</text></g>
<g id="s4-renewable-energy" class="n"><circle cx="1331" cy="606" r="5"/><text x="1338" y="618">Renewable energy</text></g>
<g id="s4-biofuel" class="n"><circle cx="1358" cy="630" r="6"/><text x="1365" y="641">biofuel</text></g>
<g id="s4-biomass" class="n"><circle cx="1401" cy="627" r="3"/><text x="1406" y="639">Biomass</text></g>
<g id="s4-biodiesel" class="n"><circle cx="1350" cy="645" r="5"/><text x="1357" y="655">Biodiesel</text></g>
<g id="s4-biogas" class="n"><circle cx="1416" cy="647" r="2.5"/><text x="1421" y="659">Biogas</text></g>
<g id="s4-anaerobic-digestion" class="n"><circle cx="1363" cy="667" r="3"/><text x="1368" y="679">Anaerobic digestion</text></g>
<g id="s4-environment" class="n"><circle cx="1383" cy="760" r="4.5"/><text x="1389" y="771">Environment</text></g>
<g id="s4-environmental-impact" class="n"><circle cx="1367" cy="778" r="6"/><text x="1375" y="790">environmental impact</text></g>
<g id="s4-environmental-performance" class="n"><circle cx="1348" cy="792" r="2.5"/><text x="1352" y="804">Environmental performance</text></g>
<g id="s4-ems" class="n"><circle cx="1326" cy="806" r="5"/><text x="1333" y="818">environmental management system</text></g>
<g id="s4-iso14001" class="n"><circle cx="1328" cy="830" r="7"/><text x="1336" y="842">ISO 14001</text></g>
<g id="s4-environmental-policy" class="n"><circle cx="1396" cy="827" r="3"/><text x="1401" y="839">environmental policy</text></g>
<g id="s4-environmental-management" class="n"><circle cx="1331" cy="848" r="3"/><text x="1336" y="860">Environmental management</text></g>
<g id="s4-pollution-prevention" class="n"><circle cx="1369" cy="865" r="2.5"/><text x="1374" y="877">Pollution prevention</text></g>
</g>
<g id="annotation-arrows">
<path class="arr" d="M946 329C928 330 932 305 932 290L933 240C933 210 943 185 954 166" marker-end="url(#ah)"/>
<path class="arr" d="M1143 330C1230 318 1300 250 1341 161" marker-end="url(#ah)"/>
<path class="arr" d="M649 500C610 462 480 460 431 516" style="stroke-width:5.5" marker-end="url(#ah)"/>
</g>
<g id="category-labels">
<g id="s1-lbl-sustainability" class="gl"><rect x="58" y="283" width="125" height="28"/><text x="120.5" y="303" textLength="108" lengthAdjust="spacingAndGlyphs">Sustainability</text></g>
<g id="s1-lbl-carbon" class="gl"><rect x="449" y="48" width="72" height="27"/><text x="485" y="68" textLength="56" lengthAdjust="spacingAndGlyphs">Carbon</text></g>
<g id="s1-lbl-environment" class="gl"><rect x="606" y="195" width="119" height="27"/><text x="665.5" y="215" textLength="100" lengthAdjust="spacingAndGlyphs">Environment</text></g>
<g id="s1-lbl-sectors" class="gl"><rect x="401" y="414" width="80" height="28"/><text x="441" y="434" textLength="62" lengthAdjust="spacingAndGlyphs">Sectors</text></g>
<g id="s2-lbl-others" class="gl"><rect x="813" y="109" width="72" height="27"/><text x="849" y="129" textLength="54" lengthAdjust="spacingAndGlyphs">Others</text></g>
<g id="s2-lbl-carbon" class="gl"><rect x="1252" y="44" width="71" height="26"/><text x="1287.5" y="63" textLength="55" lengthAdjust="spacingAndGlyphs">Carbon</text></g>
<g id="s2-lbl-environment" class="gl"><rect x="1392" y="177" width="118" height="27"/><text x="1451" y="197" textLength="100" lengthAdjust="spacingAndGlyphs">Environment</text></g>
<g id="s2-lbl-sustainability" class="gl"><rect x="890" y="377" width="123" height="27"/><text x="951.5" y="397" textLength="106" lengthAdjust="spacingAndGlyphs">Sustainability</text></g>
<g id="s2-lbl-sectors" class="gl"><rect x="1238" y="413" width="79" height="26"/><text x="1277.5" y="432" textLength="60" lengthAdjust="spacingAndGlyphs">Sectors</text></g>
<g id="s2-lbl-ecologic" class="pl"><rect x="1061" y="24" width="112" height="38"/><text x="1117" y="52" textLength="92" lengthAdjust="spacingAndGlyphs">Ecologic</text></g>
<g id="s2-lbl-energy" class="pl"><rect x="1424" y="51" width="96" height="37"/><text x="1472" y="78" textLength="74" lengthAdjust="spacingAndGlyphs">Energy</text></g>
<g id="s3-lbl-ecologic" class="gl"><rect x="135" y="499" width="81" height="29"/><text x="175.5" y="520" textLength="64" lengthAdjust="spacingAndGlyphs">Ecologic</text></g>
<g id="s3-lbl-others" class="gl"><rect x="17" y="581" width="77" height="29"/><text x="55.5" y="602" textLength="54" lengthAdjust="spacingAndGlyphs">Others</text></g>
<g id="s3-lbl-carbon" class="gl"><rect x="450" y="522" width="75" height="29"/><text x="487.5" y="543" textLength="56" lengthAdjust="spacingAndGlyphs">Carbon</text></g>
<g id="s3-lbl-energy" class="gl"><rect x="649" y="486" width="75" height="29"/><text x="686.5" y="507" textLength="54" lengthAdjust="spacingAndGlyphs">Energy</text></g>
<g id="s3-lbl-environment" class="gl"><rect x="633" y="671" width="125" height="28"/><text x="695.5" y="691" textLength="102" lengthAdjust="spacingAndGlyphs">Environment</text></g>
<g id="s3-lbl-sustainability" class="gl"><rect x="68" y="866" width="128" height="29"/><text x="132" y="887" textLength="108" lengthAdjust="spacingAndGlyphs">Sustainability</text></g>
<g id="s3-lbl-sectors" class="gl"><rect x="507" y="911" width="83" height="29"/><text x="548.5" y="932" textLength="62" lengthAdjust="spacingAndGlyphs">Sectors</text></g>
<g id="s4-lbl-ecologic" class="gl"><rect x="888" y="536" width="81" height="29"/><text x="928.5" y="557" textLength="64" lengthAdjust="spacingAndGlyphs">Ecologic</text></g>
<g id="s4-lbl-others" class="gl"><rect x="779" y="620" width="77" height="28"/><text x="817.5" y="640" textLength="54" lengthAdjust="spacingAndGlyphs">Others</text></g>
<g id="s4-lbl-sustainability" class="gl"><rect x="777" y="735" width="128" height="29"/><text x="841" y="756" textLength="108" lengthAdjust="spacingAndGlyphs">Sustainability</text></g>
<g id="s4-lbl-energy" class="gl"><rect x="1389" y="511" width="74" height="29"/><text x="1426" y="532" textLength="54" lengthAdjust="spacingAndGlyphs">Energy</text></g>
<g id="s4-lbl-environment" class="gl"><rect x="1393" y="727" width="125" height="29"/><text x="1455.5" y="748" textLength="102" lengthAdjust="spacingAndGlyphs">Environment</text></g>
<g id="s4-lbl-sectors" class="gl"><rect x="1227" y="895" width="83" height="27"/><text x="1268.5" y="915" textLength="62" lengthAdjust="spacingAndGlyphs">Sectors</text></g>
<g id="s4-lbl-carbon" class="pl"><rect x="1155" y="498" width="106" height="37"/><text x="1208" y="525" textLength="80" lengthAdjust="spacingAndGlyphs">Carbon</text></g>
</g>
<g id="stage-titles">
<g id="title-stage1" class="tt"><rect x="10" y="12" width="266" height="39"/><text x="143" y="41" textLength="250" lengthAdjust="spacingAndGlyphs">Stage 1: 1993-1998</text></g>
<g id="title-stage2" class="tt"><rect x="773" y="12" width="268" height="39"/><text x="907" y="41" textLength="252" lengthAdjust="spacingAndGlyphs">Stage 2: 1999-2004</text></g>
<g id="title-stage3" class="tt"><rect x="10" y="453" width="266" height="39"/><text x="143" y="482" textLength="252" lengthAdjust="spacingAndGlyphs">Stage 3: 2005-2010</text></g>
<g id="title-stage4" class="tt"><rect x="778" y="455" width="270" height="39"/><text x="913" y="484" textLength="252" lengthAdjust="spacingAndGlyphs">Stage 4: 2011-2015</text></g>
</g>
</svg>
